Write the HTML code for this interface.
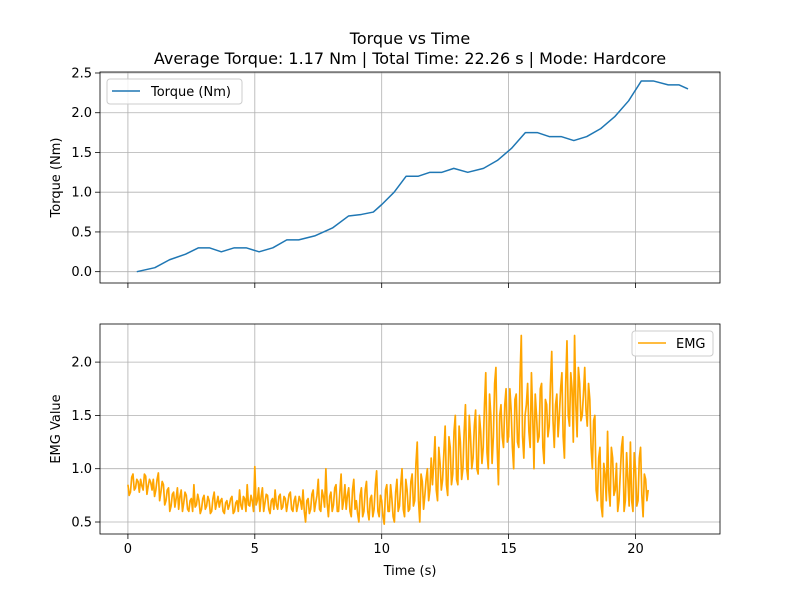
<!DOCTYPE html>
<html><head><meta charset="utf-8">
<style>
html,body{margin:0;padding:0;background:#fff;}
svg{display:block;font-family:"DejaVu Sans","Liberation Sans",sans-serif;}
</style></head>
<body>
<svg id="chart" width="800" height="600" viewBox="0 0 800 600" xmlns="http://www.w3.org/2000/svg">
<rect width="800" height="600" fill="#fff"/>
<text x="410" y="44" font-size="16" text-anchor="middle">Torque vs Time</text>
<text x="410" y="64" font-size="16" text-anchor="middle">Average Torque: 1.17 Nm | Total Time: 22.26 s | Mode: Hardcore</text>
<g id="top"></g>
<g id="bot"></g>
</svg>
<script>
const xTicks=[0,5,10,15,20];
const torqueYTicks=[0.0,0.5,1.0,1.5,2.0,2.5];
const emgYTicks=[0.5,1.0,1.5,2.0];
const torqueTime=[0.35,1.06,1.64,2.27,2.78,3.21,3.68,4.19,4.66,5.17,5.71,6.26,6.73,7.36,8.06,8.69,9.2,9.67,10.02,10.49,10.96,11.43,11.9,12.37,12.84,13.39,14.01,14.56,15.11,15.66,16.13,16.6,17.07,17.57,18.08,18.63,19.18,19.73,20.23,20.7,21.29,21.72,22.07];
const torqueValues=[0,0.05,0.15,0.22,0.3,0.3,0.25,0.3,0.3,0.25,0.3,0.4,0.4,0.45,0.55,0.7,0.72,0.75,0.85,1.0,1.2,1.2,1.25,1.25,1.3,1.25,1.3,1.4,1.55,1.75,1.75,1.7,1.7,1.65,1.7,1.8,1.95,2.15,2.4,2.4,2.35,2.35,2.3];
const emgStart=0, emgStep=0.1;
const emgValues=[
0.85,0.78,0.95,0.82,0.88,0.9,0.8,0.93,0.84,0.87,
0.9,0.8,0.96,0.78,0.85,0.7,0.82,0.65,0.78,0.72,
0.62,0.8,0.68,0.75,0.6,0.72,0.85,0.66,0.7,0.62,
0.75,0.65,0.7,0.6,0.78,0.68,0.64,0.72,0.58,0.7,
0.66,0.74,0.6,0.7,0.8,0.62,0.72,0.85,0.65,0.7,
1.02,0.7,0.6,0.82,0.68,0.75,0.58,0.72,0.8,0.62,
0.76,0.64,0.72,0.68,0.78,0.6,0.74,0.66,0.7,0.8,
0.5,0.72,0.62,0.8,0.68,0.9,0.6,0.74,1.0,0.55,
0.78,0.66,0.85,0.6,0.95,0.7,0.62,0.82,0.55,0.9,
0.7,0.5,0.82,0.6,0.88,0.52,0.75,0.62,0.98,0.55,
0.7,0.48,0.85,0.6,0.72,0.5,0.9,0.65,1.0,0.55,
0.8,0.62,0.95,0.7,1.25,0.5,0.88,0.75,1.0,0.8,
0.85,1.3,0.7,1.05,0.9,1.4,0.75,1.2,0.95,1.5,
0.85,1.25,1.0,1.6,0.9,1.3,1.1,1.55,0.95,1.35,
1.2,1.9,1.0,1.5,1.3,1.95,0.85,1.6,1.2,1.75,
1.3,1.55,1.0,1.7,1.2,2.25,1.1,1.6,1.35,1.9,
1.0,1.5,1.3,1.8,1.05,1.6,1.4,2.1,1.2,1.7,
1.5,1.9,1.1,2.2,1.4,1.75,2.25,1.3,1.8,1.5,
1.95,1.4,1.65,1.0,1.5,0.7,1.2,0.55,0.95,1.35,
0.65,1.1,0.8,0.6,0.95,1.3,0.7,0.9,1.25,0.6,
1.0,0.7,1.2,0.55,0.9,0.8];
const emgMidValues=[
0.75,0.92,0.8,0.9,0.78,0.84,0.95,0.76,0.9,0.8,
0.74,0.9,0.7,0.88,0.66,0.8,0.6,0.76,0.64,0.82,
0.74,0.6,0.78,0.62,0.7,0.6,0.64,0.76,0.58,0.72,
0.62,0.74,0.58,0.72,0.62,0.74,0.7,0.6,0.68,0.62,
0.72,0.58,0.68,0.6,0.66,0.74,0.6,0.66,0.75,0.6,
0.66,0.82,0.74,0.6,0.76,0.62,0.7,0.62,0.66,0.74,
0.62,0.74,0.6,0.76,0.62,0.7,0.6,0.74,0.62,0.6,
0.7,0.58,0.76,0.6,0.75,0.62,0.8,0.64,0.68,0.74,
0.6,0.82,0.6,0.78,0.62,0.85,0.75,0.6,0.8,0.62,
0.58,0.75,0.55,0.8,0.6,0.72,0.55,0.85,0.6,0.75,
0.55,0.8,0.6,0.85,0.55,0.78,0.6,0.85,0.62,0.9,
0.6,0.88,0.65,1.05,0.7,0.95,0.62,0.9,0.7,1.1,
1.05,0.8,1.2,0.8,1.15,0.85,1.3,0.85,1.35,0.9,
1.4,0.9,1.35,1.0,1.5,1.0,1.4,1.0,1.5,1.05,
1.6,1.15,1.7,1.05,1.8,1.2,1.5,1.3,1.6,1.25,
1.75,1.2,1.65,1.25,1.85,1.3,1.5,1.8,1.2,1.5,
1.7,1.25,1.75,1.2,1.65,1.3,1.8,1.45,1.6,1.3,
1.75,1.3,1.8,1.5,1.9,1.25,1.6,1.95,1.45,1.7,
1.55,1.8,1.2,1.45,0.8,1.1,0.65,1.05,0.7,0.8,
1.2,0.75,1.05,0.7,1.2,0.6,1.15,0.65,0.7,1.15,
0.65,1.1,0.75,0.95,0.7,0.95];

const NS="http://www.w3.org/2000/svg";
function mk(parent,tag,attrs,text){const e=document.createElementNS(NS,tag);for(const k in attrs)e.setAttribute(k,attrs[k]);if(text!==undefined)e.textContent=text;parent.appendChild(e);return e;}
const L=100,R=720;
const xMin=-1.1,xMax=23.33;
const xs=v=>L+(v-xMin)/(xMax-xMin)*(R-L);

function axes(g,top,bot,yMin,yMax,yTicks,fmt,ylabel,showX){
  const ys=v=>bot-(v-yMin)/(yMax-yMin)*(bot-top);
  xTicks.forEach(t=>{
    const gl=mk(g,'line',{x1:xs(t),x2:xs(t),y1:top,y2:bot,stroke:'#b0b0b0','stroke-width':0.8});
    
    
    const tk=mk(g,'line',{x1:xs(t),x2:xs(t),y1:bot,y2:bot+5,stroke:'#000','stroke-width':0.8});
    
    
    if(showX){
      const tl=mk(g,'text',{x:xs(t),y:bot+19,'font-size':13,'text-anchor':'middle'},String(t));
      
      
    }
  });
  yTicks.forEach(t=>{
    const gl=mk(g,'line',{x1:L,x2:R,y1:ys(t),y2:ys(t),stroke:'#b0b0b0','stroke-width':0.8});
    
    
    const tk=mk(g,'line',{x1:L-5,x2:L,y1:ys(t),y2:ys(t),stroke:'#000','stroke-width':0.8});
    
    
    const tl=mk(g,'text',{x:L-8,y:ys(t)+4.5,'font-size':13,'text-anchor':'end'},fmt(t));
    
    
  });
  const yl=mk(g,'text',{x:0,y:0,'font-size':13,'text-anchor':'middle',transform:`translate(60,${(top+bot)/2}) rotate(-90)`},ylabel);
  
  
  return ys;
}

// top
const gT=document.getElementById('top');
const yT=axes(gT,72,283,-0.1425,2.5125,torqueYTicks,v=>v.toFixed(1),'Torque (Nm)',false);
let d='';torqueTime.forEach((t,i)=>{d+=(i?'L':'M')+xs(t).toFixed(2)+' '+yT(torqueValues[i]).toFixed(2);});
const tl=mk(gT,'path',{d:d,fill:'none',stroke:'#1f77b4','stroke-width':1.5,'stroke-linejoin':'round'});


const fT=mk(gT,'rect',{x:L,y:72,width:R-L,height:211,fill:'none',stroke:'#000','stroke-width':0.8});


const lgT=mk(gT,'g',{});


mk(lgT,'rect',{x:107,y:79,width:135,height:25,rx:3,fill:'#fff','fill-opacity':0.8,stroke:'#ccc','stroke-width':1});
mk(lgT,'line',{x1:112,x2:140,y1:91,y2:91,stroke:'#1f77b4','stroke-width':1.5});
mk(lgT,'text',{x:151,y:96,'font-size':13},'Torque (Nm)');

// bottom
const gB=document.getElementById('bot');
const yB=axes(gB,324,534,0.3875,2.3575,emgYTicks,v=>v.toFixed(1),'EMG Value',true);
let d2='';
emgValues.forEach((v,i)=>{
  d2+=(i?'L':'M')+xs(emgStart+i*emgStep).toFixed(2)+' '+yB(v).toFixed(2);
  if(i<emgMidValues.length && i<emgValues.length-1){
    d2+='L'+xs(emgStart+(i+0.5)*emgStep).toFixed(2)+' '+yB(emgMidValues[i]).toFixed(2);
  }
});
const el=mk(gB,'path',{d:d2,fill:'none',stroke:'#ffa500','stroke-width':1.7,'stroke-linejoin':'round'});


const fB=mk(gB,'rect',{x:L,y:324,width:R-L,height:210,fill:'none',stroke:'#000','stroke-width':0.8});


const lgB=mk(gB,'g',{});


mk(lgB,'rect',{x:632,y:331,width:81,height:25,rx:3,fill:'#fff','fill-opacity':0.8,stroke:'#ccc','stroke-width':1});
mk(lgB,'line',{x1:638,x2:666,y1:343,y2:343,stroke:'#ffa500','stroke-width':1.5});
mk(lgB,'text',{x:676,y:348,'font-size':13},'EMG');
const xt=mk(gB,'text',{x:410,y:575,'font-size':13,'text-anchor':'middle'},'Time (s)');


</script>
</body></html>
